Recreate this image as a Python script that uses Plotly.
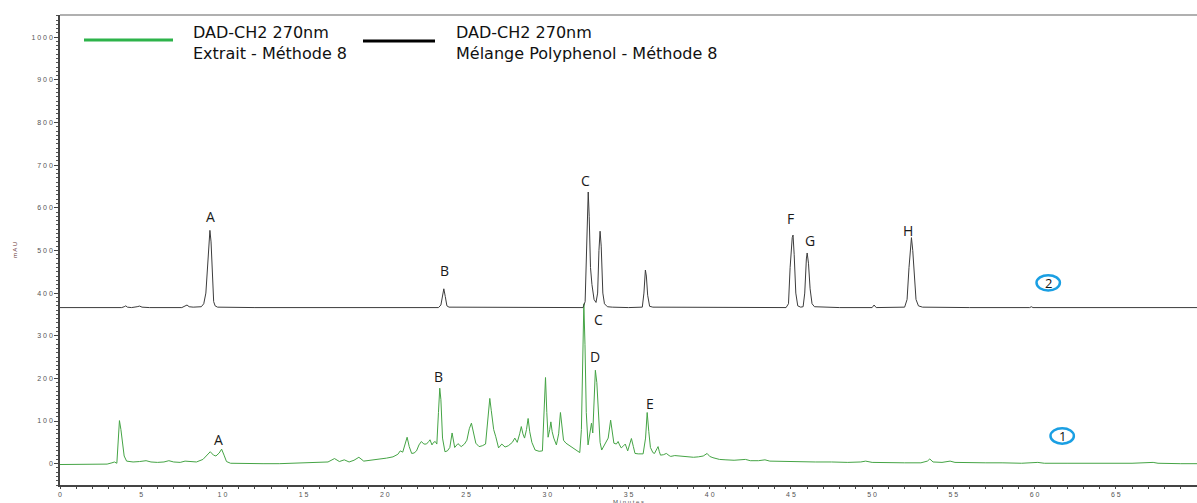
import plotly.graph_objects as go

# ---------------- data ----------------
# Trace 1 : Extrait - Méthode 8 (green)
extrait_time = [0, 1.0, 2.0, 2.9, 3.2, 3.35, 3.5, 3.6, 3.66, 3.75, 3.85, 3.95, 4.1, 4.5, 4.9, 5.3, 5.6,
                6.0, 6.4, 6.7, 7.0, 7.4, 7.7, 8.0, 8.4, 8.8, 9.0, 9.25, 9.45, 9.6, 9.8, 9.95, 10.1, 10.25,
                10.5, 11.5, 12.5, 13.5, 14.5, 15.5, 16.5, 16.9, 17.2, 17.5, 17.8, 18.1, 18.4, 18.7, 19.0,
                19.3, 19.7, 20.1, 20.5, 20.8, 20.95, 21.1, 21.25, 21.37, 21.5, 21.65, 21.8, 21.95, 22.1,
                22.25, 22.4, 22.56, 22.7, 22.78, 22.9, 23.0, 23.1, 23.2, 23.3, 23.38, 23.45, 23.55, 23.7,
                23.85, 24.0, 24.14, 24.3, 24.5, 24.7, 24.9, 25.05, 25.2, 25.33, 25.45, 25.6, 25.8, 26.0,
                26.2, 26.35, 26.46, 26.55, 26.7, 26.83, 27.0, 27.2, 27.4, 27.6, 27.7, 27.85, 28.0, 28.15,
                28.3, 28.4, 28.5, 28.6, 28.72, 28.82, 28.92, 29.05, 29.25, 29.5, 29.7, 29.8, 29.89, 29.97,
                30.05, 30.15, 30.22, 30.3, 30.4, 30.56, 30.7, 30.81, 30.9, 31.0, 31.15, 31.3, 31.45, 31.6,
                31.8, 32.0, 32.1, 32.18, 32.25, 32.32, 32.4, 32.51, 32.62, 32.72, 32.8, 32.88, 32.96, 33.05,
                33.15, 33.25, 33.35, 33.5, 33.6, 33.75, 33.9, 34.0, 34.1, 34.25, 34.36, 34.45, 34.55, 34.7,
                34.8, 34.95, 35.05, 35.18, 35.3, 35.4, 35.6, 35.9, 36.05, 36.15, 36.25, 36.35, 36.5, 36.6,
                36.75, 36.82, 36.9, 36.97, 37.15, 37.33, 37.5, 37.6, 37.85, 38.1, 38.4, 38.7, 39.0, 39.3,
                39.6, 39.84, 40.0, 40.2, 40.6, 41.0, 41.5, 42.2, 42.5, 43.0, 43.4, 43.7, 44.5, 45.5, 46.5,
                47.5, 48.5, 49.3, 49.6, 50.0, 51.0, 52.0, 53.0, 53.4, 53.55, 53.75, 54.3, 54.8, 55.1, 56.0,
                57.0, 58.0, 59.2, 60.2, 60.6, 62.0, 64.0, 66.0, 67.3, 67.6, 69.0, 70.0]
extrait_mau = [-2, -2, -1.5, -1, 2, 4, 1, 60, 101, 80, 45, 18, 6, 4, 5, 7, 4,
               3, 4, 7, 4, 3, 6, 5, 4, 10, 18, 28, 20, 18, 25, 34, 20, 5,
               1, 0, 0, 0, 1, 2, 4, 12, 5, 9, 4, 8, 15, 6, 7,
               9, 11, 13, 16, 22, 30, 27, 45, 62, 40, 24, 25, 30, 44,
               52, 46, 46, 52, 56, 44, 50, 52, 46, 120, 177, 150, 60, 28,
               30, 38, 72, 38, 47, 40, 46, 55, 82, 95, 75, 48, 40, 42,
               46, 100, 153, 125, 80, 63, 37, 46, 39, 42, 45, 50, 60, 50,
               70, 87, 70, 60, 80, 106, 75, 50, 32, 29, 30, 120, 202, 120,
               62, 80, 98, 75, 60, 44, 70, 120, 80, 55, 48, 44, 40, 36,
               30, 26, 80, 250, 375, 280, 120, 44, 70, 95, 72, 150, 219, 190,
               120, 50, 32, 42, 48, 60, 102, 70, 48, 46, 52, 44, 37, 42,
               46, 30, 42, 59, 40, 24, 23, 23, 60, 120, 75, 38, 26, 24,
               35, 40, 28, 20, 21, 24, 19, 17, 19, 18, 16, 15, 15, 16,
               18, 24, 17, 14, 10, 9, 8, 10, 7, 7, 9, 6, 5, 4, 4,
               4, 3, 4, 6, 3, 2, 2, 2, 6, 11, 4, 3, 6, 3, 2,
               2, 2, 1, 3, 1, 1, 1, 1, 3, 1, 0, 0]

# Trace 2 : Mélange Polyphenol - Méthode 8 (black), drawn with its own baseline offset
melange_time = [0, 2.0, 3.8, 3.95, 4.05, 4.15, 4.4, 4.75, 4.9, 5.05, 5.5, 7.5, 7.7, 7.82, 7.95, 8.2, 8.7,
                8.85, 8.98, 9.08, 9.18, 9.23, 9.3, 9.38, 9.46, 9.55, 9.7, 12.0, 16.0, 20.0, 23.3, 23.45,
                23.55, 23.63, 23.72, 23.82, 23.95, 28.0, 32.2, 32.33, 32.42, 32.48, 32.52, 32.58, 32.66,
                32.75, 32.88, 33.0, 33.1, 33.18, 33.25, 33.32, 33.42, 33.52, 33.7, 34.0, 35.0, 35.85,
                35.95, 36.04, 36.1, 36.18, 36.3, 36.5, 40.0, 44.7, 44.85, 44.95, 45.08, 45.13, 45.2, 45.3,
                45.42, 45.6, 45.75, 45.85, 45.95, 46.0, 46.08, 46.18, 46.3, 46.45, 48.0, 50.0, 50.12,
                50.25, 52.0, 52.15, 52.27, 52.38, 52.42, 52.5, 52.6, 52.7, 52.85, 53.1, 56.0, 59.7, 59.8,
                59.9, 70.0]
melange_mau = [366, 366, 366, 368, 370, 367, 366, 368, 369.5, 367, 366, 366, 369, 372, 368, 367, 368,
               375, 400, 470, 530, 547, 520, 440, 380, 370, 367, 366, 366, 366, 366, 372,
               395, 410, 392, 370, 367, 366, 366, 380, 520, 620, 637, 580, 460,
               420, 385, 378, 400, 500, 545, 510, 400, 375, 368, 367, 366, 367,
               400, 454, 440, 395, 369, 367, 366, 366, 375, 460, 530, 536, 490, 400,
               370, 367, 368, 400, 480, 494, 470, 410, 375, 368, 366, 366, 372,
               366, 367, 385, 460, 525, 530, 500, 430, 385, 370, 367, 366, 366, 368,
               366, 366]

# peak labels
melange_labels = ["A", "B", "C", "F", "G", "H"]
melange_label_x = [9.24, 23.65, 32.33, 44.95, 46.18, 52.2]
melange_label_y = [580, 452, 665, 576, 524, 547]
extrait_labels = ["A", "B", "C", "D", "E"]
extrait_label_x = [9.73, 23.28, 33.17, 32.94, 36.33]
extrait_label_y = [56, 205, 339, 252, 140]

# circled trace numbers
trace_numbers = ["2", "1"]
trace_number_x = [60.84, 61.7]
trace_number_y = [424, 65]

# axis ticks
x_tick_vals = list(range(0, 71, 5))
y_tick_vals = list(range(0, 1001, 100))
x_tick_text = [" ".join(str(v)) for v in x_tick_vals]
y_tick_text = [" ".join(str(v)) for v in y_tick_vals]

legend_names = ["DAD-CH2 270nm<br>Extrait - Méthode 8",
                "DAD-CH2 270nm<br>Mélange Polyphenol - Méthode 8"]

# ---------------- figure ----------------
W, H = 1197, 503
ML, MR, MT, MB = 60, 0, 15, 18
PW, PH = W - ML - MR, H - MT - MB


def px_x(p):
    return (p - ML) / PW


def px_y(p):
    return 1 - (p - MT) / PH


fig = go.Figure()
fig.add_trace(go.Scatter(x=extrait_time, y=extrait_mau, mode="lines",
                         line=dict(color="#45a445", width=1), name=legend_names[0],
                         showlegend=False))
fig.add_trace(go.Scatter(x=melange_time, y=melange_mau, mode="lines",
                         line=dict(color="#3c3c3c", width=1), name=legend_names[1],
                         showlegend=False))

label_font = dict(family="Open Sans, Noto Sans, sans-serif", size=14, color="#1a1a1a")
for t, x, y in zip(melange_labels, melange_label_x, melange_label_y):
    fig.add_annotation(x=x, y=y, text=t, showarrow=False, font=label_font)
for t, x, y in zip(extrait_labels, extrait_label_x, extrait_label_y):
    fig.add_annotation(x=x, y=y, text=t, showarrow=False, font=label_font)

for t, x, y in zip(trace_numbers, trace_number_x, trace_number_y):
    fig.add_shape(type="circle", xref="x", yref="y", x0=x - 0.72, x1=x + 0.72,
                  y0=y - 18, y1=y + 18, line=dict(color="#1a9fe3", width=2.5))
    fig.add_annotation(x=x, y=y, text=t, showarrow=False,
                       font=dict(family="Open Sans, sans-serif", size=13, color="#111"))

# legend (drawn manually as in the original)
fig.add_shape(type="line", xref="paper", yref="paper", x0=px_x(84), x1=px_x(173),
              y0=px_y(40), y1=px_y(40), line=dict(color="#2db34a", width=3))
fig.add_shape(type="line", xref="paper", yref="paper", x0=px_x(363), x1=px_x(435),
              y0=px_y(41), y1=px_y(41), line=dict(color="#000000", width=3))
leg_font = dict(family="DejaVu Sans, sans-serif", size=16, color="#111")
for lx, name in zip([191, 454], legend_names):
    fig.add_annotation(xref="paper", yref="paper", x=px_x(lx), y=px_y(42.5), xanchor="left",
                       yanchor="middle", text=name, showarrow=False, align="left",
                       font=leg_font)

# top frame line
fig.add_shape(type="line", xref="paper", yref="paper", x0=0, x1=1, y0=1, y1=1,
              line=dict(color="#b0b0b0", width=2))

# axis titles
small_font = dict(family="Liberation Sans, Arial, sans-serif", size=6, color="#555")
fig.add_annotation(xref="x", yref="paper", x=34.0, y=px_y(497.5), xanchor="left",
                   yanchor="top", borderpad=0, text="M i n u t e s", showarrow=False,
                   font=small_font)
fig.add_annotation(xref="paper", yref="paper", x=px_x(10), y=px_y(250), textangle=-90,
                   text="m A U", showarrow=False,
                   font=dict(family="Liberation Sans, Arial, sans-serif", size=6, color="#633"))

fig.update_layout(
    width=W, height=H,
    margin=dict(l=ML, r=MR, t=MT, b=MB),
    paper_bgcolor="white", plot_bgcolor="white",
    showlegend=False,
    xaxis=dict(range=[0, 70], showgrid=False, zeroline=False, showline=True,
               linecolor="#444", linewidth=1.5, ticks="outside", ticklen=2, tickwidth=1,
               tickcolor="#444", tickvals=x_tick_vals, ticktext=x_tick_text,
               tickfont=dict(family="Liberation Sans, Arial, sans-serif", size=7, color="#555"),
               minor=dict(dtick=1, ticks="outside", ticklen=2, tickcolor="#444")),
    yaxis=dict(range=[-50, 1052], showgrid=False, zeroline=False, showline=True,
               linecolor="#444", linewidth=1.5, ticks="outside", ticklen=4, tickwidth=1,
               tickcolor="#444", tickvals=y_tick_vals, ticktext=y_tick_text,
               tickfont=dict(family="Liberation Sans, Arial, sans-serif", size=7, color="#555"),
               minor=dict(dtick=10, ticks="outside", ticklen=2, tickcolor="#555")),
)

fig.write_html("out.html", config={"displayModeBar": False},
               post_script="document.body.style.margin='0';document.body.style.overflow='hidden';")
